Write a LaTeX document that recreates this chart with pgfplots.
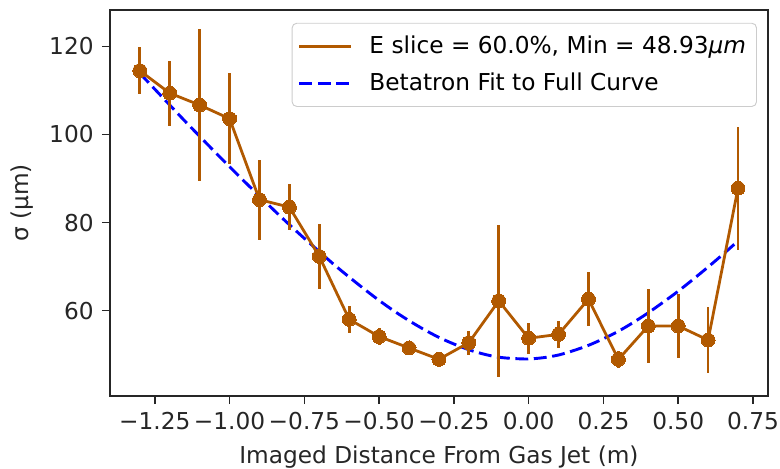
\documentclass[border=0pt]{standalone}
\usepackage{fontspec}
\setmainfont{DejaVu Sans}
\usepackage{pgfplots}
\pgfplotsset{compat=1.18}
\definecolor{slicebrown}{RGB}{177,89,0}

\begin{document}
\begin{tikzpicture}
\begin{axis}[
  scale only axis,
  width=283pt, height=166pt,
  xmin=-1.4, xmax=0.8, ymin=40.6, ymax=128.3,
  axis line style={line width=0.7pt, black!85},
  tick style={line width=0.7pt, black!85},
  tick align=outside, major tick length=3.5pt,
  xtick pos=left, ytick pos=left,
  xtick={-1.25,-1,-0.75,-0.5,-0.25,0,0.25,0.5,0.75},
  xticklabels={−1.25,−1.00,−0.75,−0.50,−0.25,0.00,0.25,0.50,0.75},
  ytick={60,80,100,120},
  yticklabels={60,80,100,120},
  tick label style={font=\fontsize{10}{12}\selectfont, text=black!85},
  label style={font=\fontsize{10}{12}\selectfont, text=black!85},
  xlabel={Imaged Distance From Gas Jet (m)},
  ylabel={σ (µm)},
  legend style={at={(rel axis cs:1,1)}, anchor=north east,
    xshift=-4.7pt, yshift=-5.5pt, draw=black!20, rounded corners=2pt,
    fill=white, fill opacity=0.8, text opacity=1,
    font=\fontsize{10}{12}\selectfont, inner xsep=2.5pt, inner ysep=3.3pt,
    row sep=3pt, nodes={inner sep=2pt},
    /tikz/every odd column/.append style={column sep=5.5pt}},
  legend cell align=left,
  legend image code/.code={\draw[#1,mark=none] (0pt,0pt) -- (22pt,0pt);},
]
% fitted betatron envelope
\addplot[blue, line width=1.25pt, dash pattern=on 5.55pt off 2.4pt, mark=none, smooth, forget plot] coordinates {
  (-1.30,113.9) (-1.25,110.3) (-1.20,106.7) (-1.15,103.1) (-1.10,99.6)
  (-1.05,96.1) (-1.00,92.7) (-0.95,89.3) (-0.90,86.0) (-0.85,82.7)
  (-0.80,79.5) (-0.75,76.4) (-0.70,73.4) (-0.65,70.4) (-0.60,67.6)
  (-0.55,64.9) (-0.50,62.3) (-0.45,59.9) (-0.40,57.7) (-0.35,55.7)
  (-0.30,53.9) (-0.25,52.4) (-0.20,51.1) (-0.15,50.1) (-0.10,49.4)
  (-0.05,49.1) (0.00,49.0) (0.05,49.3) (0.10,49.9) (0.15,50.9)
  (0.20,52.1) (0.25,53.6) (0.30,55.3) (0.35,57.3) (0.40,59.5)
  (0.45,61.9) (0.50,64.4) (0.55,67.1) (0.60,69.9) (0.65,72.8) (0.70,75.8)
};
% measured sigma with error bars
\addplot[slicebrown, line width=1.2pt, mark=*, mark size=3pt,
  mark options={fill=slicebrown, draw=slicebrown, line width=0pt},
  error bars/.cd, y dir=both, y explicit, error mark=none,
  error bar style={line width=1.2pt, slicebrown}]
  coordinates {
  (-1.3,114.5) +- (0,5.3)
  (-1.2,109.4) +- (0,7.4)
  (-1.1,106.7) +- (0,17.3)
  (-1.0,103.6) +- (0,10.3)
  (-0.9,85.2) +- (0,9.1)
  (-0.8,83.5) +- (0,5.3)
  (-0.7,72.3) +- (0,7.4)
  (-0.6,58.0) +- (0,3.1)
  (-0.5,54.1) +- (0,2.0)
  (-0.4,51.5) +- (0,1.0)
  (-0.3,48.93) +- (0,1.3)
  (-0.2,52.7) +- (0,2.7)
  (-0.1,62.2) +- (0,17.3)
  (0.0,53.7) +- (0,3.5)
  (0.1,54.6) +- (0,3.1)
  (0.2,62.6) +- (0,6.1)
  (0.3,48.9) +- (0,2.0)
  (0.4,56.5) +- (0,8.4)
  (0.5,56.5) +- (0,7.2)
  (0.6,53.3) +- (0,7.5)
  (0.7,87.8) +- (0,14.0)
};
\addlegendentry{E slice = 60.0\%, Min = 48.93{\itshape µm}}
\addlegendimage{blue, line width=1.25pt, dash pattern=on 5.55pt off 2.4pt}
\addlegendentry{Betatron Fit to Full Curve}
\end{axis}
\pgfresetboundingbox
\path (current axis.south west) ++(-47.3pt,-31.4pt) coordinate (bbA);
\path (current axis.north east) ++(5.2pt,4.3pt) coordinate (bbB);
\useasboundingbox (bbA) rectangle (bbB);
\end{tikzpicture}
\end{document}
